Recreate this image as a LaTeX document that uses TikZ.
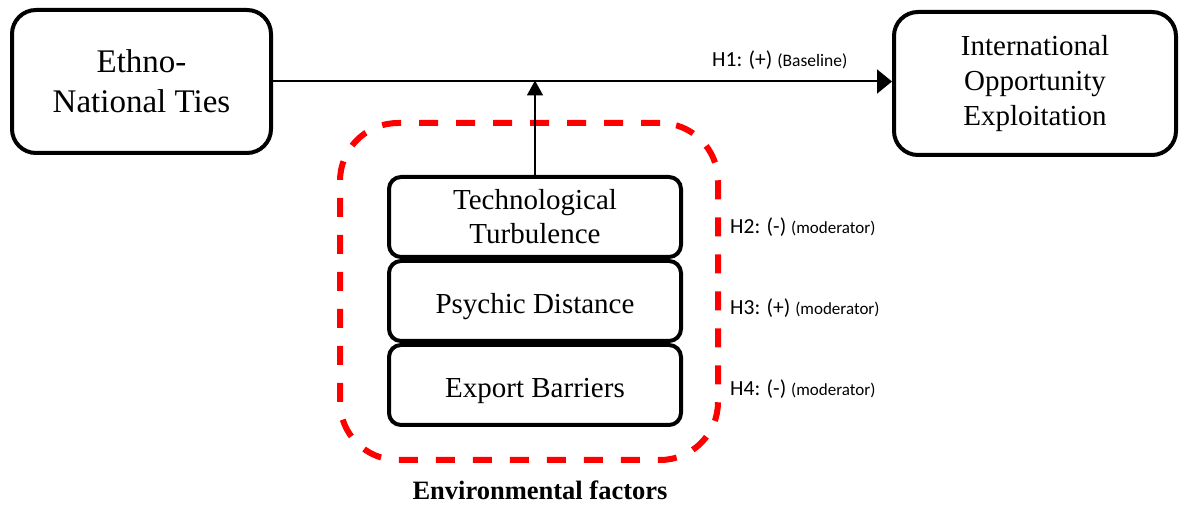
\documentclass[tikz,border=0pt]{standalone}
\usepackage{fontspec}
\setmainfont{Liberation Serif}
\newfontfamily\hypfont{Carlito}
\usepackage{tikz}
\usetikzlibrary{positioning,arrows.meta}

\begin{document}
\begin{tikzpicture}[x=1pt,y=-1pt,
    box/.style={draw,line width=4pt,rounded corners=24pt,align=center,inner sep=0pt},
    factor/.style={draw,line width=4pt,rounded corners=12pt,align=center,inner sep=0pt,
      minimum width=292pt,minimum height=80pt,font=\fontsize{29}{34}\selectfont},
    oneline/.style={factor,text height=25pt,text depth=0pt},
    envbox/.style={draw=red,line width=6pt,dash pattern=on 19pt off 18pt,
      rounded corners=58pt,minimum width=378pt,minimum height=337pt},
    hyp/.style={anchor=base west,inner sep=0pt,font=\hypfont\fontsize{21.5}{24}\selectfont}]
  \useasboundingbox (0,0) rectangle (1187,510);

  % moderator frame goes in first, under the boxes
  \node[envbox] (env) at (529,291.5) {};
  \node[anchor=base,font=\bfseries\fontsize{26.5}{30}\selectfont] (envlbl) at (540,500) {Environmental factors};

  \node[box,minimum width=259pt,minimum height=143pt,font=\fontsize{33}{40}\selectfont]
    (ethno) at (141.5,81.5) {Ethno-\\National Ties};
  \node[box,minimum width=282pt,minimum height=143pt,font=\fontsize{29}{35}\selectfont]
    (intl) at (1035,83.5) {International\\Opportunity\\Exploitation};

  \node[factor] (tech) at (535,217) {Technological\\Turbulence};
  \node[oneline,below=0pt of tech] (psych) {Psychic Distance};
  \node[oneline,below=0pt of psych] (export) {Export Barriers};

  \draw[line width=2pt,-{Triangle[length=15pt,width=24pt]}] (ethno) -- (intl.west |- ethno);
  \draw[line width=1.7pt,shorten >=-1pt,-{Triangle[length=15pt,width=16pt]}] (tech) -- (tech |- ethno.east);

  \node[hyp] (h1) at (712,67) {H1: (+) {\hypfont\fontsize{17.5}{20}\selectfont(Baseline)}};
  \node[hyp] (h2) at (730,234) {H2: (-) {\hypfont\fontsize{17}{20}\selectfont(moderator)}};
  \node[hyp] (h3) at (730,315) {H3: (+) {\hypfont\fontsize{17}{20}\selectfont(moderator)}};
  \node[hyp] (h4) at (730,396) {H4: (-) {\hypfont\fontsize{17}{20}\selectfont(moderator)}};
\end{tikzpicture}
\end{document}
